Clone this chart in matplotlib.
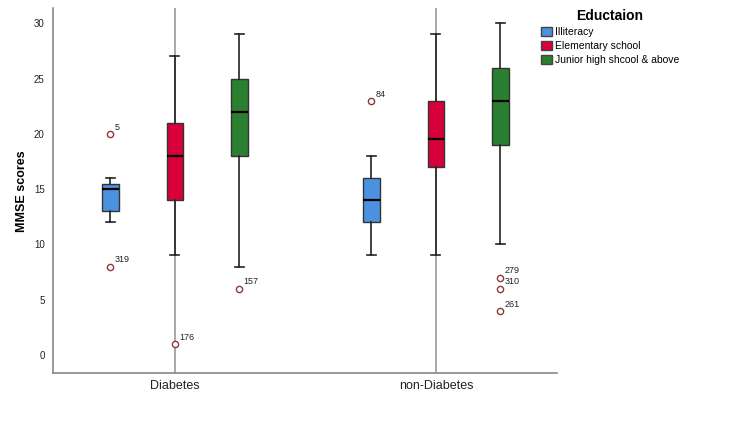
import matplotlib.pyplot as plt
from matplotlib.patches import Patch

plt.rcParams['font.family'] = ['Liberation Sans', 'DejaVu Sans']

groups = ["Diabetes", "non-Diabetes"]
educ = ["Illiteracy", "Elementary school", "Junior high shcool & above"]
colors = ["#4a92e0", "#d8003a", "#2a7f30"]

# per group, per education level: (whislo, q1, med, q3, whishi)
stats = {
    "Diabetes": [(12, 13, 15, 15.5, 16), (9, 14, 18, 21, 27), (8, 18, 22, 25, 29)],
    "non-Diabetes": [(9, 12, 14, 16, 18), (9, 17, 19.5, 23, 29), (10, 19, 23, 26, 30)],
}
# outliers: (value, case label)
outliers = {
    "Diabetes": [[(20, "5"), (8, "319")], [(1, "176")], [(6, "157")]],
    "non-Diabetes": [[(23, "84")], [], [(7, "279"), (6, "310"), (4, "261")]],
}

fig = plt.figure(figsize=(7.44, 4.29), dpi=100)
ax = fig.add_axes([0.0712, 0.1305, 0.6775, 0.85])

offset = 0.247
width = 0.063
for gi, g in enumerate(groups):
    ax.axvline(gi, color="#9a9a9a", lw=1.2, zorder=0)
    for ei in range(3):
        lo, q1, med, q3, hi = stats[g][ei]
        s = dict(whislo=lo, q1=q1, med=med, q3=q3, whishi=hi,
                 fliers=[v for v, _ in outliers[g][ei]])
        pos = gi + (ei - 1) * offset
        ax.bxp([s], positions=[pos], widths=width, patch_artist=True,
               boxprops=dict(facecolor=colors[ei], edgecolor="#333333", lw=1),
               medianprops=dict(color="black", lw=1.6),
               whiskerprops=dict(color="#222222", lw=1.2),
               capprops=dict(color="#222222", lw=1.2),
               flierprops=dict(marker="o", markerfacecolor="white",
                               markeredgecolor="#8b3a3a", markersize=4.5, lw=0),
               capwidths=width * 0.55)
        for v, lab in outliers[g][ei]:
            ax.annotate(lab, (pos, v), xytext=(3, 3), textcoords="offset points",
                        fontsize=6.5, color="#222222")

ax.set_xlim(-0.467, 1.464)
ax.set_ylim(-1.63, 31.35)
ax.set_xticks([0, 1])
ax.set_xticklabels(groups, fontsize=9, color="#222222")
ax.set_yticks(range(0, 31, 5))
ax.tick_params(axis="y", labelsize=7, length=0, pad=6, colors="#222222")
ax.tick_params(axis="x", length=0, pad=5)
ax.set_ylabel("MMSE scores", fontsize=9, fontweight="bold", labelpad=4)
for side in ["top", "right"]:
    ax.spines[side].set_visible(False)
for side in ["left", "bottom"]:
    ax.spines[side].set_color("#888888")
    ax.spines[side].set_linewidth(1.2)

handles = [Patch(facecolor=c, edgecolor="#444444", label=l) for c, l in zip(colors, educ)]
leg = fig.legend(handles=handles, title="Eductaion", loc="upper left",
                 bbox_to_anchor=(0.715, 1.0), frameon=False, fontsize=7.5,
                 title_fontproperties=dict(weight="bold", size=10),
                 handlelength=1.0, handleheight=1.0, handletextpad=0.3,
                 labelspacing=0.35)
leg._legend_box.align = "left"
leg.get_title().set_position((35, 0))

fig.savefig("out.png", dpi=100)
